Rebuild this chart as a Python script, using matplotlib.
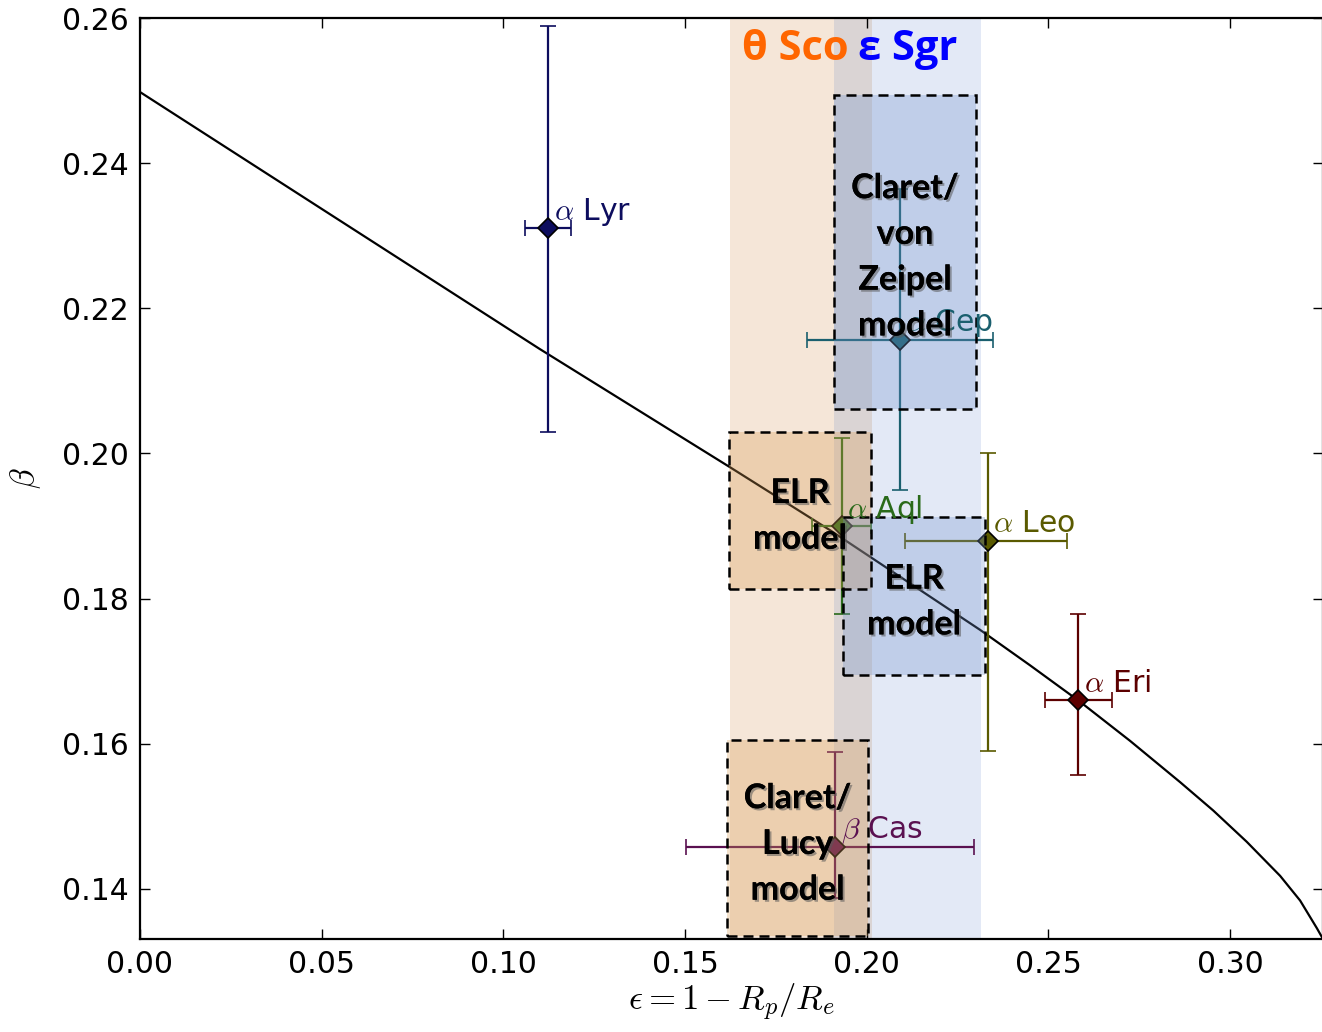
"""Gravity-darkening exponent beta against flattening for interferometric stars."""
import matplotlib
matplotlib.use("Agg")
import matplotlib.pyplot as plt
import matplotlib.patheffects as pe
from matplotlib.patches import Rectangle

# model curve beta(eps)
curve_eps = [0.0, 0.05, 0.110, 0.1624, 0.190, 0.2312, 0.2450, 0.2587, 0.2725, 0.2863,
             0.2954, 0.3046, 0.3138, 0.3193, 0.3239, 0.3256]
curve_beta = [0.2498, 0.2337, 0.2144, 0.1981, 0.1894, 0.1757, 0.1708, 0.1658, 0.1604,
              0.1547, 0.1508, 0.1465, 0.1418, 0.1384, 0.1346, 0.1331]

# measured stars
star_names = [r"$\alpha$ Lyr", r"$\alpha$ Cep", r"$\alpha$ Aql",
              r"$\alpha$ Leo", r"$\alpha$ Eri", r"$\beta$ Cas"]
star_eps = [0.1124, 0.2092, 0.1931, 0.2333, 0.2583, 0.1913]
star_beta = [0.2310, 0.2157, 0.1900, 0.1880, 0.1660, 0.1458]
eps_err_lo = [0.0063, 0.0257, 0.0082, 0.0227, 0.0092, 0.0410]
eps_err_hi = [0.0063, 0.0257, 0.0082, 0.0218, 0.0092, 0.0383]
beta_err_lo = [0.0280, 0.0207, 0.0121, 0.0290, 0.0103, 0.0071]
beta_err_hi = [0.0279, 0.0207, 0.0121, 0.0121, 0.0119, 0.0131]
star_colors = ["#0d0d5e", "#1a5f6e", "#2a6a1a", "#5a5a00", "#5c0000", "#5a1050"]

# epsilon ranges of the two stars with no direct beta
band_names = ["θ Sco", "ε Sgr"]
band_lo = [0.1624, 0.1910]
band_hi = [0.2015, 0.2315]
band_label_eps = [0.1657, 0.1976]

# predicted beta boxes
box_labels = ["Claret/\nvon\nZeipel\nmodel", "ELR\nmodel", "ELR\nmodel",
              "Claret/\nLucy\nmodel"]
box_eps_lo = [0.1910, 0.1621, 0.1935, 0.1616]
box_eps_hi = [0.2301, 0.2012, 0.2326, 0.2004]
box_beta_lo = [0.2061, 0.1813, 0.1695, 0.1335]
box_beta_hi = [0.2494, 0.2030, 0.1912, 0.1605]
box_text_beta = [0.2271, 0.1914, 0.1796, 0.1462]
box_band = [1, 0, 1, 0]

band_colors = ["#cd823c", "#4470c3"]
band_alpha = [0.2, 0.15]
box_colors = ["#da9d53", "#7292cb"]
title_colors = ["#ff6600", "#0000ff"]

plt.rcParams.update({"font.size": 21.5, "mathtext.fontset": "cm",
                     "axes.linewidth": 1.6})

fig = plt.figure(figsize=(13.22, 10.32), dpi=100)
ax = fig.add_axes([140 / 1322, 93 / 1032, 1183 / 1322, 921 / 1032])

for lo, hi, c, a in zip(band_lo, band_hi, band_colors, band_alpha):
    ax.axvspan(lo, hi, color=c, alpha=a, lw=0, zorder=0)

ax.plot(curve_eps, curve_beta, color="black", lw=1.6, zorder=2)

for name, x, y, xlo, xhi, ylo, yhi, c in zip(star_names, star_eps, star_beta,
                                             eps_err_lo, eps_err_hi,
                                             beta_err_lo, beta_err_hi, star_colors):
    ax.errorbar(x, y, xerr=[[xlo], [xhi]], yerr=[[ylo], [yhi]], fmt="D", color=c,
                mfc=c, mec="black", ms=10, mew=1.2, elinewidth=1.6, capsize=6,
                capthick=1.6, zorder=3)
    ax.annotate(name, (x, y), xytext=(4, 6), textcoords="offset points",
                color=c, ha="left", va="baseline", fontsize=21.5, zorder=6)

shadow = [pe.withSimplePatchShadow(offset=(1.5, -1.5), shadow_rgbFace="0.35",
                                   alpha=0.55), pe.Normal()]

for lab, x0, x1, y0, y1, ty, b in zip(box_labels, box_eps_lo, box_eps_hi,
                                      box_beta_lo, box_beta_hi, box_text_beta,
                                      box_band):
    ax.add_patch(Rectangle((x0, y0), x1 - x0, y1 - y0, facecolor=box_colors[b],
                           alpha=0.3, lw=0, zorder=4))
    ax.add_patch(Rectangle((x0, y0), x1 - x0, y1 - y0, facecolor="none",
                           edgecolor="black", lw=1.8, linestyle=(0, (4.0, 2.4)),
                           zorder=4.5))
    ax.text((x0 + x1) / 2, ty, lab, ha="center", va="center",
            family=["Lato", "Open Sans"], weight="bold", fontsize=24.5,
            linespacing=1.53, zorder=7, path_effects=shadow)

for lab, x, c in zip(band_names, band_label_eps, title_colors):
    ax.text(x, 0.2556, lab, color=c, family="Open Sans", weight="bold",
            fontsize=30, ha="left", va="center", zorder=7)

ax.set_xlim(0.0, 0.3256)
ax.set_ylim(0.1331, 0.26)
ax.set_xticks([0.0, 0.05, 0.10, 0.15, 0.20, 0.25, 0.30])
ax.set_yticks([0.14, 0.16, 0.18, 0.20, 0.22, 0.24, 0.26])
ax.xaxis.set_major_formatter(matplotlib.ticker.FormatStrFormatter("%.2f"))
ax.yaxis.set_major_formatter(matplotlib.ticker.FormatStrFormatter("%.2f"))
ax.tick_params(direction="in", length=7, width=1, top=True, right=True, pad=8)
ax.set_xlabel(r"$\epsilon = 1 - R_p/R_e$", fontsize=25, labelpad=2)
ax.set_ylabel(r"$\beta$", fontsize=24, labelpad=14)

fig.savefig("out.png", dpi=100)
